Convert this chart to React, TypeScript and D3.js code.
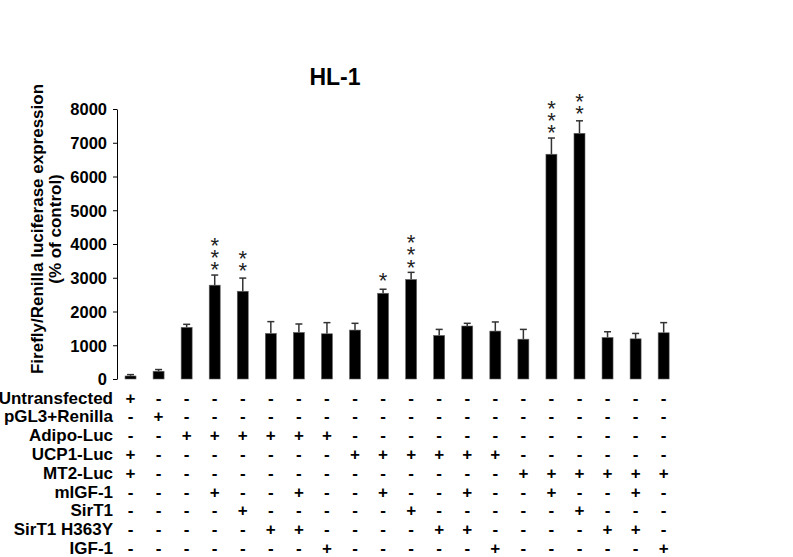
import React, { useEffect, useRef } from "react";
import * as d3 from "d3";

const title = "HL-1";
const yLabelLines = ["Firefly/Renilla luciferase expression", "(% of control)"];
const yTicks = [0, 1000, 2000, 3000, 4000, 5000, 6000, 7000, 8000];
const samples = d3.range(1, 21).map(String);
const values = [90, 230, 1530, 2780, 2600, 1350, 1380, 1340, 1450, 2540, 2950, 1290, 1570, 1420, 1180, 6660, 7280, 1230, 1190, 1370];
const errors = [40, 50, 90, 300, 390, 350, 250, 330, 200, 120, 210, 180, 80, 270, 290, 480, 370, 170, 160, 300];
const stars = [0, 0, 0, 3, 2, 0, 0, 0, 0, 1, 3, 0, 0, 0, 0, 3, 2, 0, 0, 0];

const rowLabels = ["Untransfected", "pGL3+Renilla", "Adipo-Luc", "UCP1-Luc", "MT2-Luc", "mIGF-1", "SirT1", "SirT1 H363Y", "IGF-1"];
// columns (1-based) with "+" for each row
const plusCols = [
  [1],
  [2],
  [3, 4, 5, 6, 7, 8],
  [1, 9, 10, 11, 12, 13, 14],
  [1, 15, 16, 17, 18, 19, 20],
  [4, 7, 10, 13, 16, 19],
  [5, 11, 17],
  [6, 7, 12, 13, 18, 19],
  [8, 14, 20],
];

const FONT = "'Liberation Sans', Arial, Helvetica, sans-serif";

export default function App() {
  const axisRef = useRef<SVGGElement>(null);
  const W = 793, H = 557;
  const x = d3.scaleBand<string>().domain(samples).range([116.5, 677.7]).paddingInner(0.608).paddingOuter(0.304);
  const y = d3.scaleLinear().domain([0, 8000]).range([379, 109]);
  const rowY = d3.scalePoint<string>().domain(rowLabels).range([397.5, 548]);
  const bw = x.bandwidth();
  const cx = (i: number) => (x(samples[i]) as number) + bw / 2;
  const starFs = 22;
  const starStep = 10.4;

  useEffect(() => {
    if (!axisRef.current) return;
    const g = d3.select(axisRef.current);
    g.selectAll("*").remove();
    g.call(
      d3.axisLeft(y).tickValues(yTicks).tickSize(4).tickSizeOuter(0).tickPadding(6).tickFormat(d3.format("d")) as any
    );
    g.select(".domain").attr("stroke", "#000").attr("stroke-width", 1);
    g.selectAll(".tick line").attr("stroke", "#000");
    g.selectAll(".tick text")
      .attr("font-family", FONT)
      .attr("font-size", 16.5)
      .attr("font-weight", "bold")
      .attr("fill", "#000")
      .attr("dy", "0.36em");
    g.attr("font-family", null).attr("font-size", null);
  }, []);

  return (
    <svg width={W} height={H} style={{ position: "absolute", left: 0, top: 0, background: "#fff" }} fontFamily={FONT}>
      <rect width={W} height={H} fill="#fff" />
      <text x={335} y={85} textAnchor="middle" fontSize={23} fontWeight="bold">{title}</text>
      {yLabelLines.map((t, i) => (
        <text key={t} transform={`translate(${43 + i * 18},229) rotate(-90)`} textAnchor="middle" fontSize={17} fontWeight="bold">{t}</text>
      ))}
      <g ref={axisRef} transform="translate(117,0)" />
      {values.map((v, i) => {
        const top = y(v);
        const capY = y(v + errors[i]);
        const c = cx(i);
        const n = stars[i];
        const lowStarCenter = capY - 8.5;
        return (
          <g key={i}>
            <line x1={c} x2={c} y1={top} y2={capY} stroke="#333" strokeWidth={1.5} />
            <line x1={c - 3.5} x2={c + 3.5} y1={capY} y2={capY} stroke="#333" strokeWidth={1.5} />
            <rect x={x(samples[i])} y={top} width={bw} height={y(0) - top} fill="#000" stroke="#666" strokeWidth={0.6} />
            {n > 0 && (
              <text
                x={c}
                y={lowStarCenter - (n - 1) * starStep - 13}
                fontSize={starFs}
                fill="#222"
                style={{ writingMode: "vertical-rl", textOrientation: "upright", letterSpacing: `${starStep - 23.1}px` } as any}
              >
                {"*".repeat(n)}
              </text>
            )}
          </g>
        );
      })}
      {rowLabels.map((lab, r) => {
        const ry = rowY(lab) as number;
        return (
          <g key={lab}>
            <text x={113} y={ry + 6} textAnchor="end" fontSize={17} fontWeight="bold">{lab}</text>
            {samples.map((s, i) => (
              <text key={s} x={cx(i)} y={ry + 6} textAnchor="middle" fontSize={17} fontWeight="bold">
                {plusCols[r].includes(i + 1) ? "+" : "-"}
              </text>
            ))}
          </g>
        );
      })}
    </svg>
  );
}
